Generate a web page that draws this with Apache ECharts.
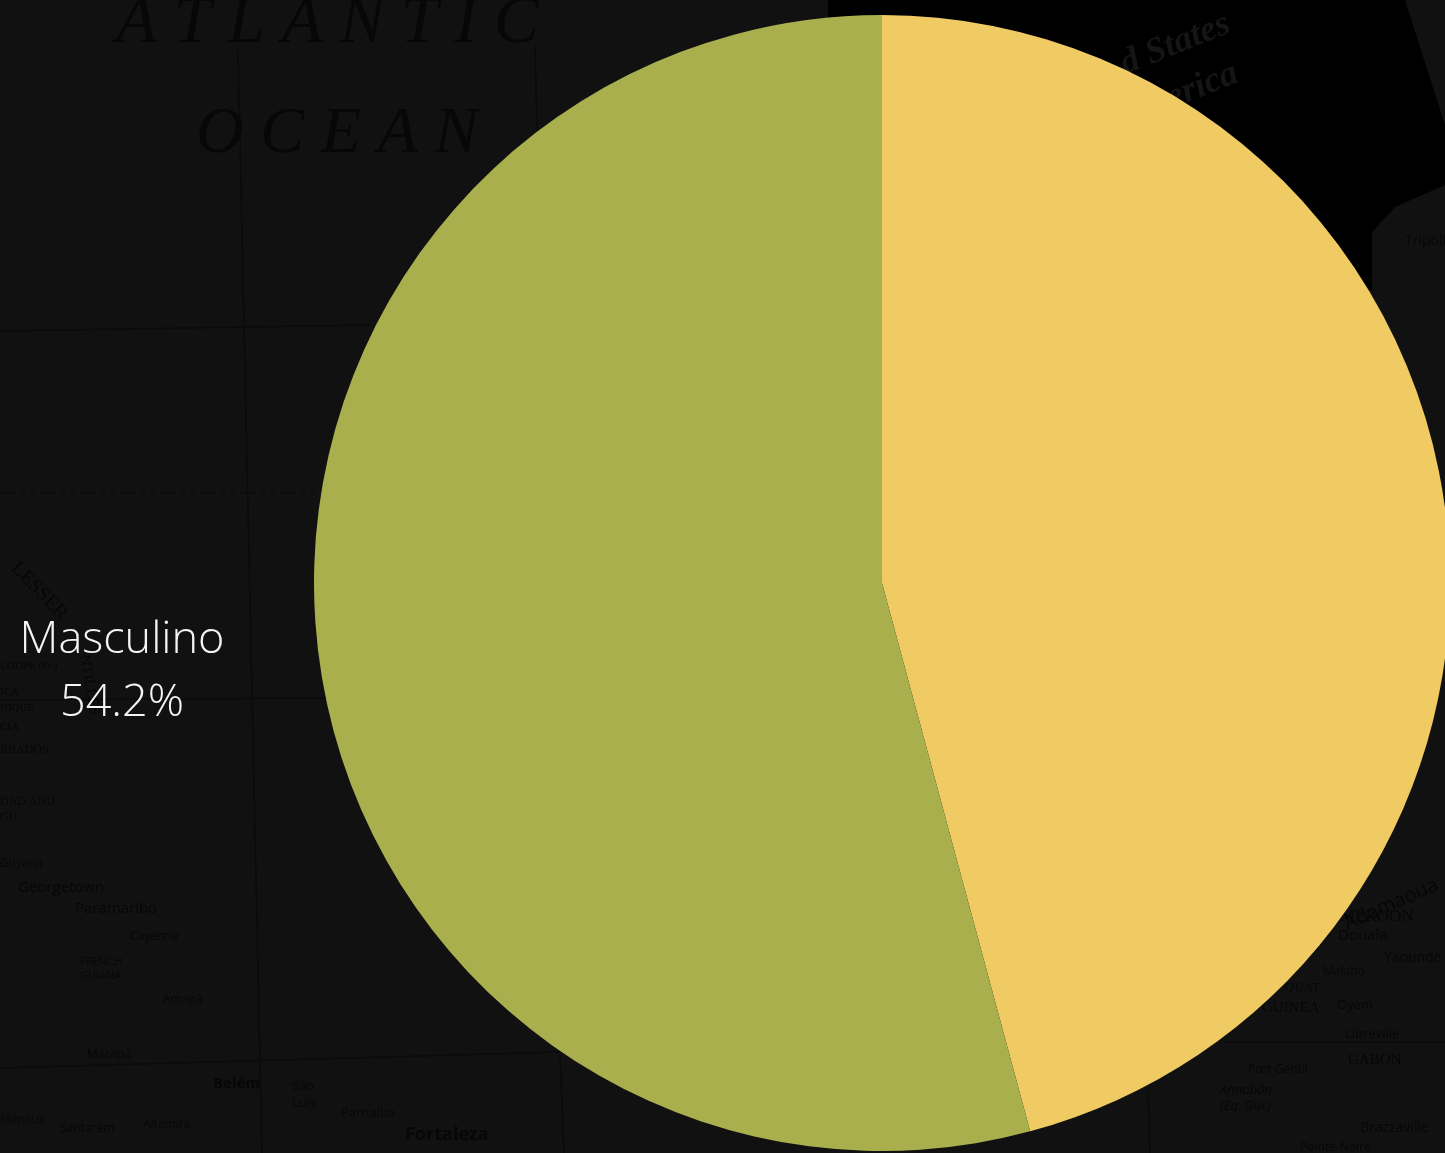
<!DOCTYPE html>
<html>
<head>
<meta charset="utf-8">
<title>Masculino</title>
<script src="https://cdn.jsdelivr.net/npm/echarts@6/dist/echarts.min.js"></script>
<style>
    html, body { margin: 0; padding: 0; background: #111; overflow: hidden; }
    #chart { width: 1445px; height: 1153px; }
</style>
</head>
<body>
<div id="chart"></div>
<script>
// valores
const categories = ['Femenino', 'Masculino'];
const percentages = [45.8, 54.2];
const sliceColors = ['#f0cb64', '#a9af4d'];

// fondo: mapa muy oscuro detras del grafico
const INK = '#070707';
const INK_DARK_BG = '#151515';

function mapText(text, x, y, size, opts) {
    opts = opts || {};
    return {
        type: 'text',
        x: x,
        y: y,
        rotation: (opts.rotate || 0) * Math.PI / 180,
        style: {
            text: text,
            fill: opts.fill || INK,
            font: (opts.italic ? 'italic ' : '') + (opts.bold ? 'bold ' : '') + size + 'px ' + (opts.family || '"Open Sans", sans-serif'),
            verticalAlign: 'middle'
        }
    };
}

function mapLine(x1, y1, x2, y2, dash) {
    return {
        type: 'line',
        shape: { x1: x1, y1: y1, x2: x2, y2: y2 },
        style: { stroke: '#0b0b0b', lineWidth: 1.5, lineDash: dash ? [6, 4] : null }
    };
}

const SERIF = '"Liberation Serif", serif';

const backdrop = [
    {
        type: 'polygon',
        shape: { points: [[828, 0], [1405, 0], [1445, 125], [1445, 185], [1395, 207], [1372, 232], [1372, 290], [1200, 300], [880, 100], [828, 16]] },
        style: { fill: '#000' }
    },
    mapLine(0, 331, 370, 325),
    mapLine(0, 493, 320, 493, true),
    mapLine(0, 700, 330, 698),
    mapLine(0, 1068, 560, 1052),
    mapLine(238, 50, 262, 1153),
    mapLine(535, 45, 537, 130),
    mapLine(560, 1055, 564, 1153),
    mapLine(1148, 1090, 1150, 1153),
    mapLine(1225, 1042, 1445, 1042),
    mapText('A T L A N T I C', 116, 24, 67, { italic: true, family: SERIF }),
    mapText('O C E A N', 196, 135, 66, { italic: true, family: SERIF }),
    mapText('LESSER', 14, 565, 20, { rotate: -46, family: SERIF }),
    mapText('NTILLES', 84, 655, 15, { rotate: -80, family: SERIF }),
    mapText('LOUPE (Fr.)', 0, 666, 11, { family: SERIF }),
    mapText('ICA', 0, 692, 11, { family: SERIF }),
    mapText('NIQUE', 0, 708, 11, { family: SERIF }),
    mapText('CIA', 0, 727, 11, { family: SERIF }),
    mapText('RBADOS', 0, 750, 12, { family: SERIF }),
    mapText('DAD AND', 0, 802, 12, { family: SERIF }),
    mapText('GO', 0, 817, 12, { family: SERIF }),
    mapText('Guyana', 0, 864, 12),
    mapText('Georgetown', 18, 888, 15),
    mapText('Paramaribo', 75, 909, 15),
    mapText('Cayenne', 130, 937, 12),
    mapText('FRENCH', 80, 962, 11),
    mapText('GUIANA', 80, 976, 11),
    mapText('Amapá', 163, 1000, 12),
    mapText('Macapá', 87, 1055, 12),
    mapText('Belém', 213, 1084, 15, { bold: true }),
    mapText('São', 292, 1086, 13),
    mapText('Luís', 292, 1103, 13),
    mapText('Parnaíba', 341, 1113, 13),
    mapText('Fortaleza', 405, 1135, 18, { bold: true }),
    mapText('Santarém', 60, 1129, 12),
    mapText('Altamira', 143, 1125, 12),
    mapText('Manaus', 0, 1120, 12),
    mapText('d States', 1122, 66, 36, { rotate: 22, italic: true, bold: true, family: SERIF, fill: INK_DARK_BG }),
    mapText('erica', 1168, 100, 36, { rotate: 22, italic: true, bold: true, family: SERIF, fill: INK_DARK_BG }),
    mapText('Tripoli', 1405, 241, 14),
    mapText('Adamaoua', 1345, 925, 20, { rotate: 24 }),
    mapText('MEROON', 1340, 917, 17, { family: SERIF }),
    mapText('Douala', 1338, 936, 15),
    mapText('Yaoundé', 1384, 958, 14),
    mapText('Malabo', 1323, 972, 12),
    mapText('QUAT.', 1285, 988, 13, { family: SERIF }),
    mapText('GUINEA', 1262, 1008, 15, { family: SERIF }),
    mapText('Oyem', 1337, 1005, 13),
    mapText('Libreville', 1345, 1034, 13),
    mapText('GABON', 1348, 1060, 15, { family: SERIF }),
    mapText('Port Gentil', 1248, 1070, 12),
    mapText('Annobón', 1220, 1090, 13, { italic: true }),
    mapText('(Eq. Gui.)', 1220, 1106, 13, { italic: true }),
    mapText('Brazzaville', 1360, 1128, 14),
    mapText('Pointe-Noire', 1300, 1148, 12)
];

const chart = echarts.init(document.getElementById('chart'));
chart.setOption({
    backgroundColor: '#111111',
    animation: false,
    graphic: {
        elements: [{ type: 'group', z: 0, silent: true, children: backdrop }]
    },
    series: [
        {
            type: 'pie',
            center: [882, 583],
            radius: [0, 568],
            startAngle: 90,
            clockwise: true,
            avoidLabelOverlap: false,
            data: categories.map((name, i) => ({
                name: name,
                value: percentages[i],
                itemStyle: { color: sliceColors[i] },
                label: { show: name === 'Masculino' }
            })),
            label: {
                position: 'outside',
                formatter: p => p.name + '\n' + p.value.toFixed(1) + '%',
                color: '#f4f4f4',
                fontFamily: '"Open Sans", sans-serif',
                fontWeight: 300,
                fontSize: 45,
                lineHeight: 63,
                align: 'center'
            },
            labelLine: { show: false },
            labelLayout: { x: 122, y: 672, align: 'center', verticalAlign: 'middle' }
        }
    ]
});
window.addEventListener('resize', () => {
    chart.resize();
});
</script>
</body>
</html>
